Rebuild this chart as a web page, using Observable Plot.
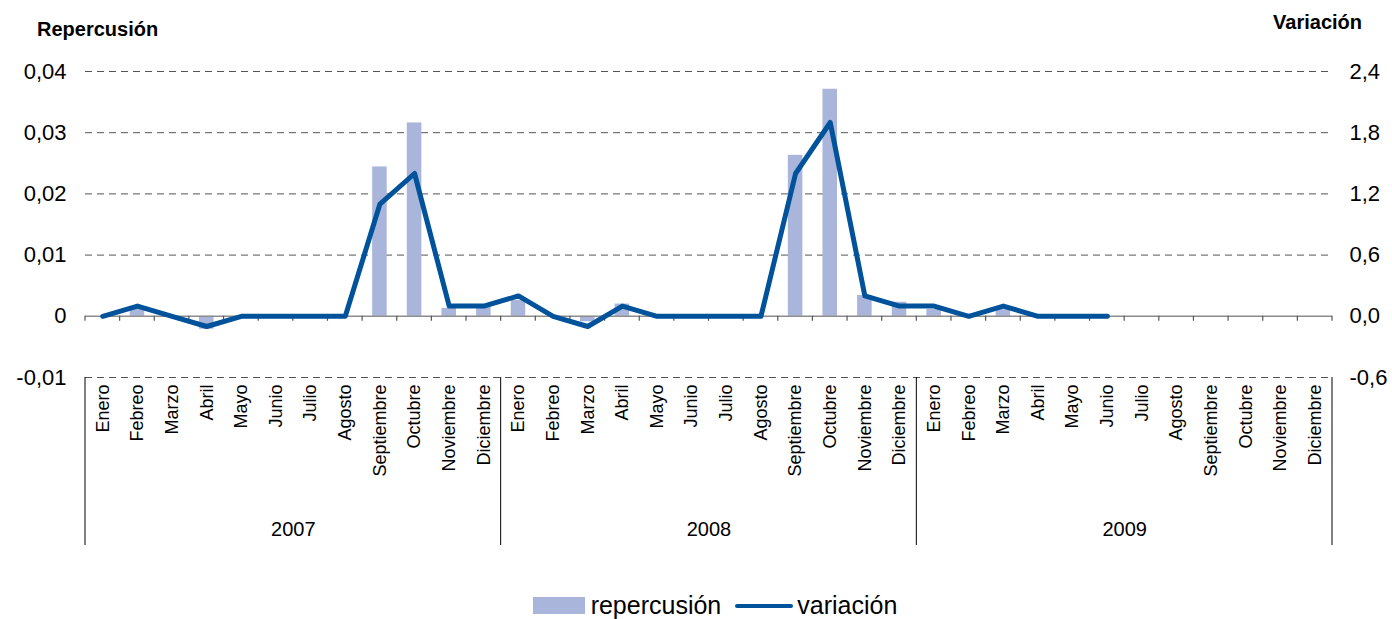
<!DOCTYPE html>
<html><head><meta charset="utf-8">
<script src="https://cdn.jsdelivr.net/npm/d3@7"></script>
<script src="https://cdn.jsdelivr.net/npm/@observablehq/plot@0.6"></script>
<style>
body{margin:0;background:#fff;font-family:"Liberation Sans",Arial,sans-serif;overflow:hidden;}
#chart svg{display:block;}
#legend{height:27px;line-height:27px;display:flex;align-items:center;justify-content:center;font-size:25px;color:#000;padding-left:38px;}
#legend .sw{display:inline-block;}
</style></head><body>
<div id="chart"></div>
<div id="legend">
  <span class="sw" style="width:52px;height:17px;background:#A9B5DA;"></span>
  <span style="margin-left:6px;">repercusión</span>
  <span class="sw" style="width:58px;height:4px;background:#00529B;margin-left:14px;border-radius:2px;"></span>
  <span style="margin-left:4px;">variación</span>
</div>
<script>
const months = ["Enero","Febreo","Marzo","Abril","Mayo","Junio","Julio","Agosto","Septiembre","Octubre","Noviembre","Diciembre"];
const years = ["2007","2008","2009"];
const repercusion2007 = [0, 0.0013, 0, -0.0021, 0, 0, 0, 0, 0.0244, 0.0316, 0.0013, 0.0015];
const repercusion2008 = [0.0026, 0, -0.0009, 0.0020, 0, 0, 0, 0, 0.0263, 0.0371, 0.0034, 0.0023];
const repercusion2009 = [0.0011, 0, 0.0011, 0, 0, 0, null, null, null, null, null, null];
const variacion2007 = [0, 0.1, 0, -0.1, 0, 0, 0, 0, 1.1, 1.4, 0.1, 0.1];
const variacion2008 = [0.2, 0, -0.1, 0.1, 0, 0, 0, 0, 1.4, 1.9, 0.2, 0.1];
const variacion2009 = [0.1, 0, 0.1, 0, 0, 0, null, null, null, null, null, null];
const leftTicks = [-0.01, 0, 0.01, 0.02, 0.03, 0.04];
const ratio = 60; // right axis units per left axis unit (2,4 / 0,04)

const repAll = [repercusion2007, repercusion2008, repercusion2009];
const varAll = [variacion2007, variacion2008, variacion2009];
const rows = [];
years.forEach((yr, k) => months.forEach((m, j) => rows.push({i: k*12+j, year: yr, month: m, r: repAll[k][j], v: varAll[k][j]})));

const W = 1392, H = 592, mL = 85, mR = 60, mT = 71, mB = 215;
const halfStep = (W - mL - mR) / 36 / 2;
const fmtL = d => d === 0 ? "0" : d.toFixed(2).replace(".", ",");
const fmtR = d => (Math.round(d*ratio*10)/10).toFixed(1).replace(".", ",").replace("-0,0","0,0");

function decor(index, scales, values, dims) {
  const {width, marginLeft, marginRight} = dims;
  const step = (width - marginLeft - marginRight) / 36;
  const y = scales.y;
  const g = d3.create("svg:g");
  const y0 = y(0), yb = y(-0.01);
  for (let i = 0; i <= 36; i++) {
    g.append("line").attr("x1", marginLeft + i*step).attr("x2", marginLeft + i*step)
      .attr("y1", y0).attr("y2", y0 + 5).attr("stroke", "#555").attr("stroke-width", 1.2);
  }
  for (const i of [0, 12, 24, 36]) {
    g.append("line").attr("x1", marginLeft + i*step).attr("x2", marginLeft + i*step)
      .attr("y1", yb).attr("y2", yb + 168).attr("stroke", "#000").attr("stroke-width", 1);
  }
  g.append("text").attr("x", 37).attr("y", 29).attr("dy", "0.35em").attr("text-anchor", "start")
    .attr("font-weight", "bold").attr("font-size", 20).attr("fill", "#000").text("Repercusión");
  g.append("text").attr("x", 1362).attr("y", 22).attr("dy", "0.35em").attr("text-anchor", "end")
    .attr("font-weight", "bold").attr("font-size", 20).attr("fill", "#000").text("Variación");
  return g.node();
}

const plot = Plot.plot({
  width: W, height: H, marginLeft: mL, marginRight: mR, marginTop: mT, marginBottom: mB,
  style: {fontFamily: "Liberation Sans, Arial, sans-serif", fontSize: "20px", color: "#000", background: "#fff"},
  x: {type: "band", domain: d3.range(36), paddingInner: 0.58, paddingOuter: 0.29, round: false, axis: null},
  y: {domain: [-0.01, 0.04], axis: null},
  marks: [
    Plot.ruleY(leftTicks.filter(d => d !== 0), {stroke: "#555", strokeDasharray: "7,5", strokeWidth: 1}),
    Plot.barY(rows.filter(d => d.r != null && d.r !== 0), {x: "i", y: "r", fill: "#A9B5DA"}),
    Plot.ruleY([0], {stroke: "#8c8c8c", strokeWidth: 1.5}),
    decor,
    Plot.line(rows.filter(d => d.v != null), {x: "i", y: d => d.v / ratio, stroke: "#00529B", strokeWidth: 5}),
    Plot.axisY({anchor: "left", ticks: leftTicks, tickSize: 0, tickPadding: 19, tickFormat: fmtL, fontSize: 22, label: null}),
    Plot.axisY({anchor: "right", ticks: leftTicks, tickSize: 0, tickPadding: 17, tickFormat: fmtR, fontSize: 22, label: null}),
    Plot.axisX({anchor: "bottom", tickSize: 0, tickPadding: 7, tickRotate: -90, tickFormat: i => months[i % 12], fontSize: 18, label: null}),
    Plot.text(years, {x: (d, k) => k*12 + 6, dx: -halfStep, y: () => -0.01, dy: 152, text: d => d, fontSize: 20})
  ]
});
document.getElementById("chart").appendChild(plot);
</script>
</body></html>
